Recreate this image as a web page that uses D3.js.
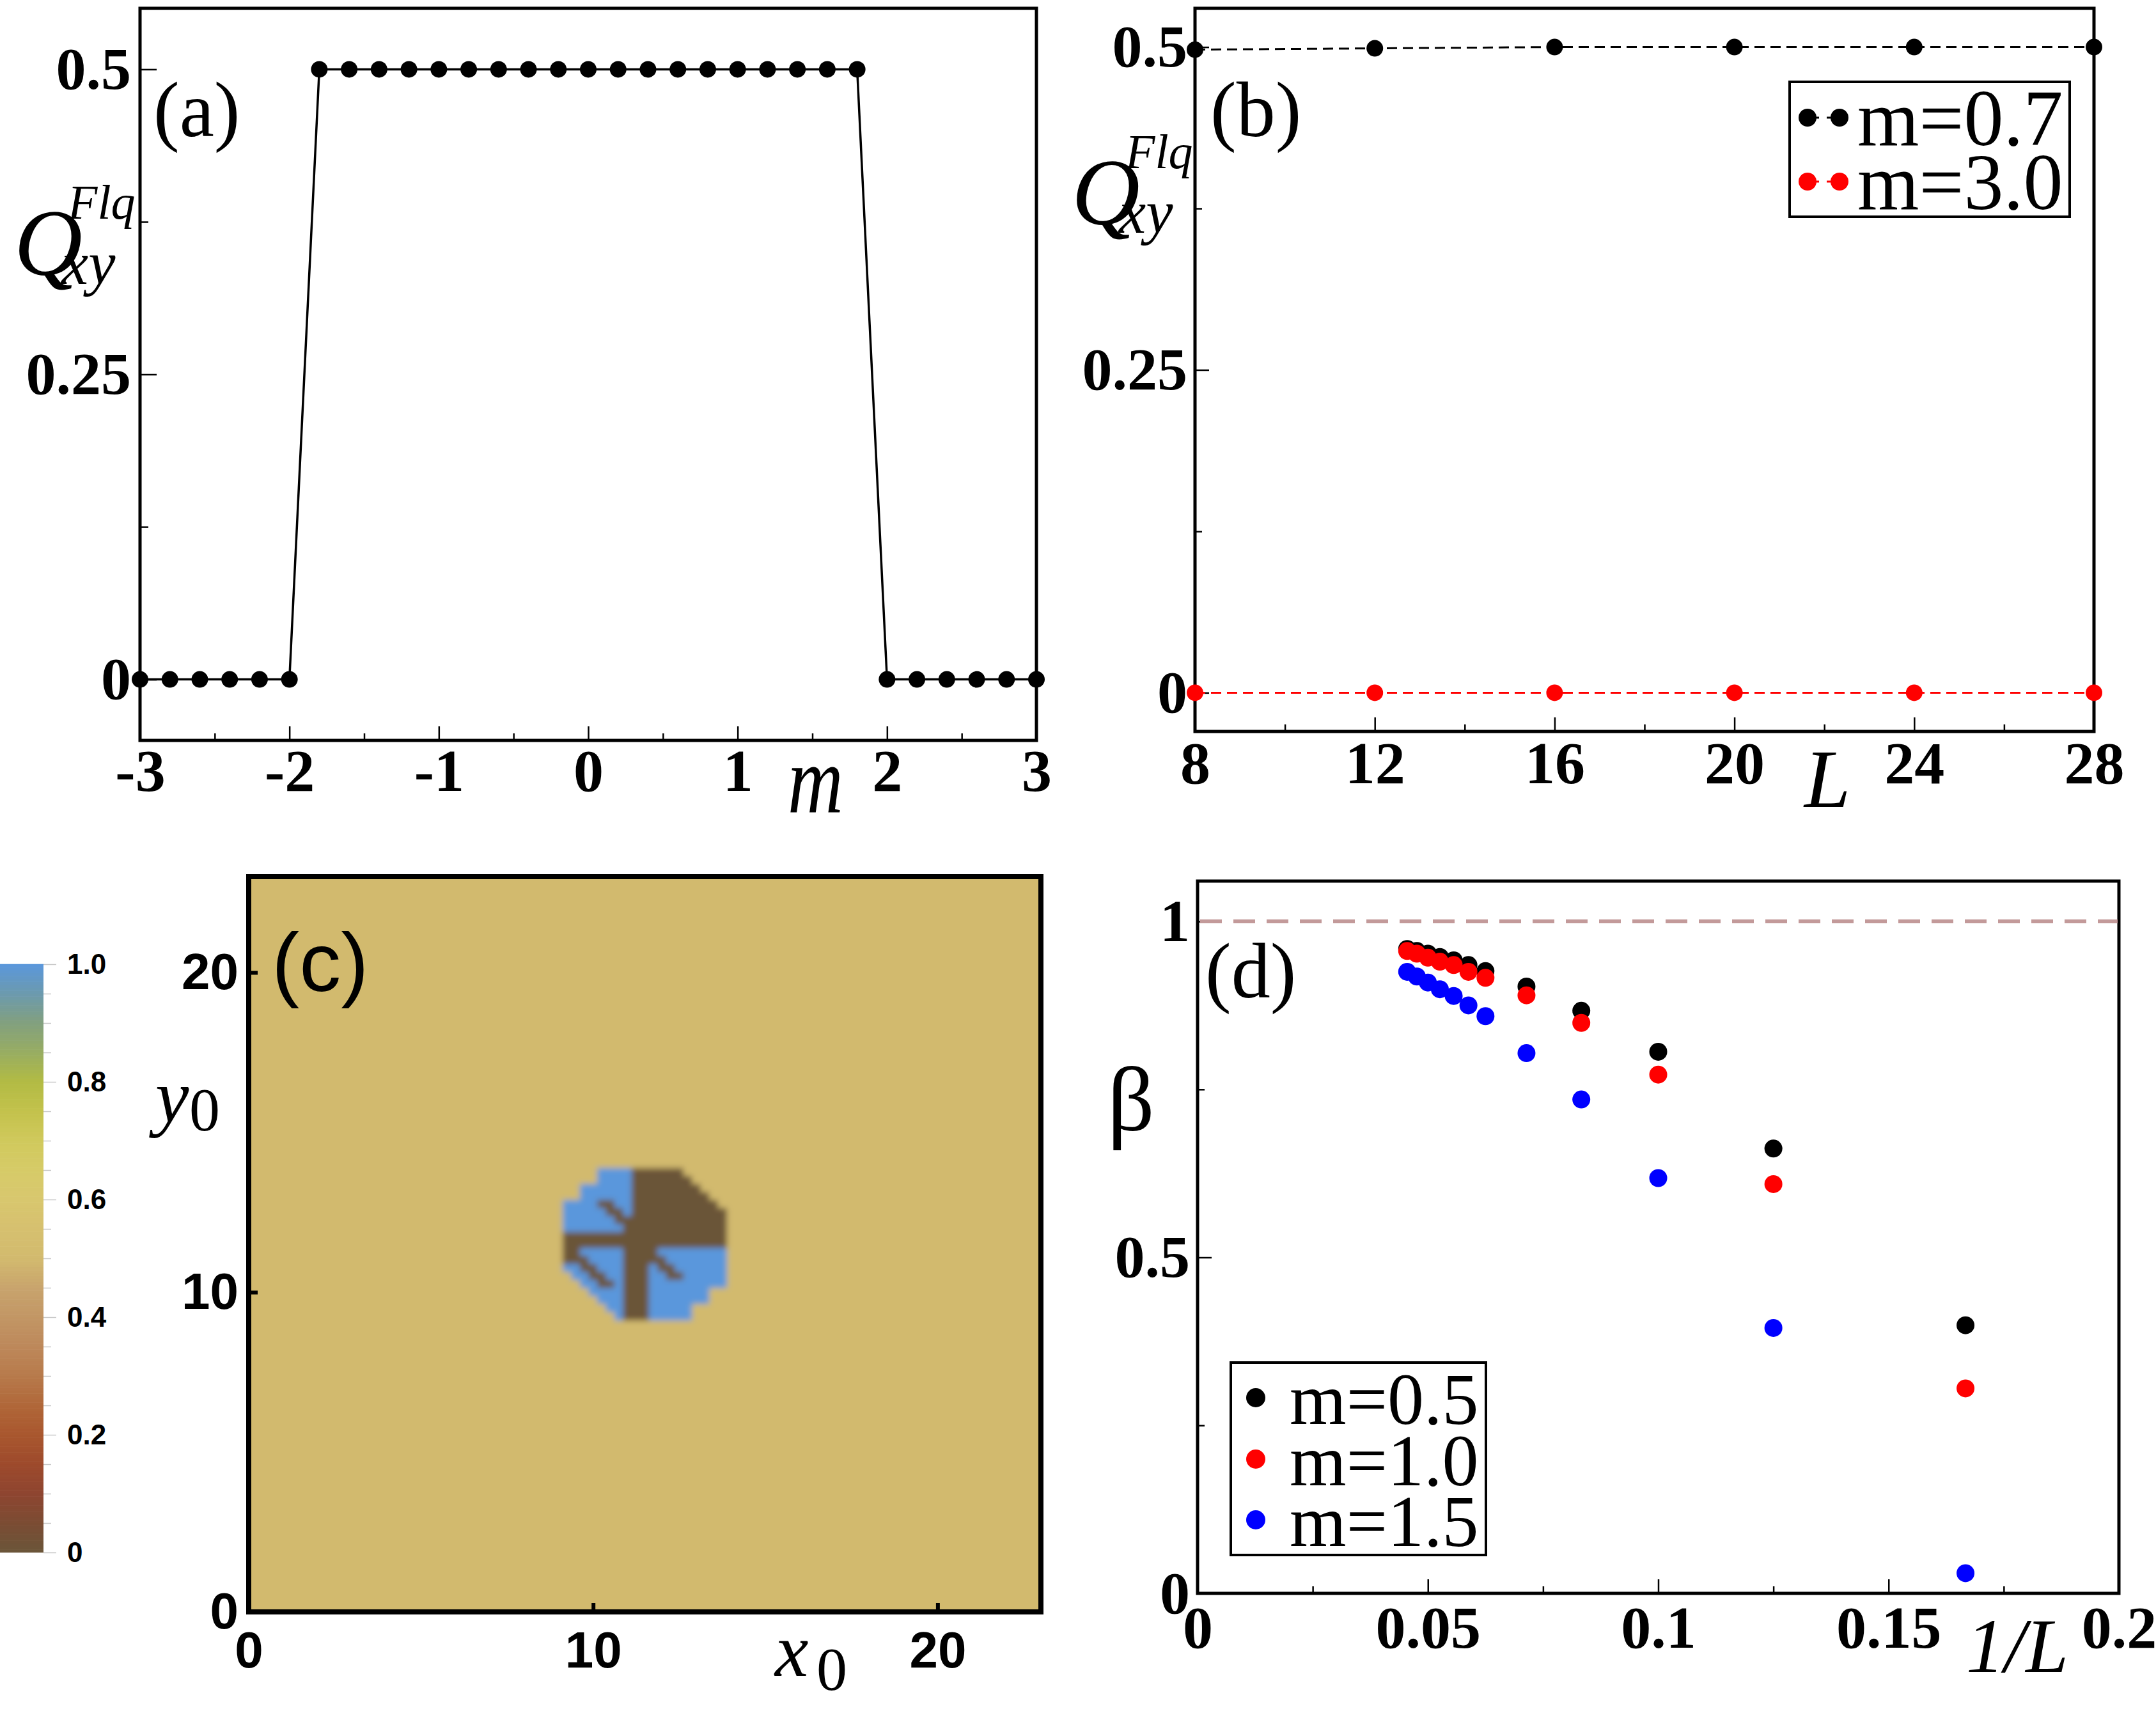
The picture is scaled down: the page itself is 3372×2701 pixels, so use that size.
<!DOCTYPE html>
<html><head><meta charset="utf-8">
<script src="https://cdn.jsdelivr.net/npm/d3@7"></script>
<style>
html,body{margin:0;padding:0;background:#fff;}
svg{display:block;}
</style></head><body>
<svg id="chart" width="3372" height="2701"></svg>
<script>
// ---------------- DATA ----------------
// Panel (a): Q_xy^Flq versus m
const mValues = [-3,-2.8,-2.6,-2.4,-2.2,-2,-1.8,-1.6,-1.4,-1.2,-1,-0.8,-0.6,-0.4,-0.2,0,0.2,0.4,0.6,0.8,1,1.2,1.4,1.6,1.8,2,2.2,2.4,2.6,2.8,3];
const qValues = [0,0,0,0,0,0,0.5,0.5,0.5,0.5,0.5,0.5,0.5,0.5,0.5,0.5,0.5,0.5,0.5,0.5,0.5,0.5,0.5,0.5,0.5,0,0,0,0,0,0];
const aXTicks = [-3,-2,-1,0,1,2,3];
const aXLabels = ["-3","-2","-1","0","1","2","3"];
const aXMinor = [-2.5,-1.5,-0.5,0.5,1.5,2.5];
const aYTicks = [0,0.25,0.5];
const aYLabels = ["0","0.25","0.5"];
const aYMinor = [0.125,0.375];

// Panel (b): Q_xy^Flq versus L
const bL = [8,12,16,20,24,28];
const bM07 = [0.498,0.499,0.5,0.5,0.5,0.5];
const bM30 = [0,0,0,0,0,0];
const bXTicks = [8,12,16,20,24,28];
const bXLabels = ["8","12","16","20","24","28"];
const bXMinor = [10,14,18,22,26];
const bYTicks = [0,0.25,0.5];
const bYLabels = ["0","0.25","0.5"];
const bYMinor = [0.125,0.375];
const bLegend = ["m=0.7","m=3.0"];

// Panel (c): density map over (x0, y0)
const heatX = [9.25,9.5,9.75,10,10.25,10.5,10.75,11,11.25,11.5,11.75,12,12.25,12.5,12.75,13,13.25,13.5,13.75];
const heatY = [13.75,13.5,13.25,13,12.75,12.5,12.25,12,11.75,11.5,11.25,11,10.75,10.5,10.25,10,9.75,9.5,9.25];
const heatRows = [
  "....BBBBDDDDDD.....",
  "....BBBBDDDDDDD....",
  "..BBBBBBDDDDDDDD...",
  "..BBBBBBDDDDDDDDD..",
  "BBBBDDBBDDDDDDDDDD.",
  "BBBBBDDBDDDDDDDDDDD",
  "BBBBBBDDDDDDDDDDDDD",
  "BBBBBBBDDDDDDDDDDDD",
  "DDDDDDDDDDDDDDDDDDD",
  "DDDDDDDDDDDDDDDDDDD",
  "DDBBBBBDDDDBBBBBBBB",
  "DDDBBBBDDDDDBBBBBBB",
  "BBDDBBBDDDBDDBBBBBB",
  ".BBDDBBDDDBBDDBBBBB",
  "..BBDDBDDDBBBBBBBBB",
  "...BBBBDDDBBBBBBB..",
  "....BBBDDDBBBBBBB..",
  ".....BBDDDBBBBB....",
  "......BDDDBBBBB...."
];
const heatCodes = {".":0.5, "B":1.0, "D":0.0};
const heatBackground = 0.5;
const cXTicks = [0,10,20];
const cYTicks = [0,10,20];
const cTickLabels = ["0","10","20"];
const cmapStops = [0,0.05,0.1,0.15,0.2,0.25,0.3,0.35,0.4,0.45,0.5,0.55,0.6,0.65,0.7,0.75,0.8,0.85,0.9,0.95,1];
const cmapColors = ["#6a5539","#7b4c33","#8e4530","#9d4a2c","#a9572e","#b06739","#b77a4b","#bd885a","#c29665","#c8a46d","#d2ba6e","#d6c06f","#d8c76e","#d6cb68","#d0c95c","#c3c24c","#b2bb44","#98ad62","#82a07e","#6c9aae","#5a97dc"];
const cbTicks = [0,0.2,0.4,0.6,0.8,1];
const cbLabels = ["0","0.2","0.4","0.6","0.8","1.0"];
const cbMinor = [0.05,0.1,0.15,0.25,0.3,0.35,0.45,0.5,0.55,0.65,0.7,0.75,0.85,0.9,0.95];

// Panel (d): beta versus 1/L
const dInvL = [0.0455,0.0476,0.05,0.0526,0.0556,0.0588,0.0625,0.0714,0.0833,0.1,0.125,0.1667];
const dM05 = [0.959,0.956,0.952,0.947,0.942,0.935,0.926,0.903,0.867,0.806,0.662,0.399];
const dM10 = [0.956,0.952,0.946,0.940,0.935,0.925,0.916,0.890,0.849,0.772,0.609,0.305];
const dM15 = [0.925,0.918,0.909,0.899,0.889,0.875,0.859,0.804,0.735,0.618,0.395,0.030];
const dRef = 1.0;
const dXTicks = [0,0.05,0.1,0.15,0.2];
const dXLabels = ["0","0.05","0.1","0.15","0.2"];
const dXMinor = [0.025,0.075,0.125,0.175];
const dYTicks = [0,0.5,1];
const dYLabels = ["0","0.5","1"];
const dYMinor = [0.25,0.75];
const dLegend = ["m=0.5","m=1.0","m=1.5"];

// ---------------- DRAWING ----------------
const SERIF = '"Liberation Serif","Times New Roman",serif';
const SANS = '"Liberation Sans",Arial,sans-serif';
const svg = d3.select('#chart');
const defs = svg.append('defs');

function axisLayer(parent, axisFn, scale, translate, vals, len, labels, o) {
  const a = axisFn(scale).tickValues(vals).tickSize(-len).tickPadding(o.pad || 10)
    .tickFormat(labels ? ((d, i) => labels[i]) : (() => ''));
  const g = parent.append('g').attr('transform', translate).call(a);
  g.select('.domain').remove();
  g.selectAll('.tick line').attr('stroke', o.tc || '#000').attr('stroke-width', o.tw || 2.5);
  g.selectAll('.tick text').attr('fill', '#000')
    .style('font-family', o.font || SERIF).style('font-size', (o.fs || 94) + 'px')
    .style('font-weight', o.fw || 'bold');
  return g;
}
function frame(parent, xs, ys, sw) {
  const [x0, x1] = xs.range(); const [y1, y0] = ys.range();
  parent.append('rect').attr('x', x0).attr('y', y0).attr('width', x1 - x0).attr('height', y1 - y0)
    .attr('fill', 'none').attr('stroke', '#000').attr('stroke-width', sw);
}
function txt(parent, x, y, s, o) {
  const t = parent.append('text').text(s)
    .style('font-family', o.font || SERIF).style('font-size', o.fs + 'px')
    .style('font-style', o.it ? 'italic' : 'normal').style('font-weight', o.fw || 'normal')
    .attr('fill', '#000').attr('text-anchor', o.anchor || 'start');
  if (o.sx) t.attr('transform', `translate(${x},${y}) scale(${o.sx},1)`);
  else t.attr('x', x).attr('y', y);
  return t;
}

// ===== Panel (a) =====
const ax = d3.scaleLinear().domain([-3, 3]).range([219, 1621]);
const ay = d3.scaleLinear().domain([-0.05, 0.55]).range([1158, 13]);
const ga = svg.append('g');
frame(ga, ax, ay, 5);
axisLayer(ga, d3.axisBottom, ax, `translate(0,${ay.range()[0]})`, aXTicks, 22, aXLabels, {pad: 12});
axisLayer(ga, d3.axisBottom, ax, `translate(0,${ay.range()[0]})`, aXMinor, 11, null, {});
axisLayer(ga, d3.axisLeft, ay, `translate(${ax.range()[0]},0)`, aYTicks, 26, aYLabels, {pad: 14});
axisLayer(ga, d3.axisLeft, ay, `translate(${ax.range()[0]},0)`, aYMinor, 13, null, {});
const aPts = mValues.map((m, i) => [m, qValues[i]]);
ga.append('path').attr('d', d3.line().x(d => ax(d[0])).y(d => ay(d[1]))(aPts))
  .attr('fill', 'none').attr('stroke', '#000').attr('stroke-width', 3.5);
ga.selectAll('circle.pa').data(aPts).join('circle').attr('class', 'pa')
  .attr('cx', d => ax(d[0])).attr('cy', d => ay(d[1])).attr('r', 13).attr('fill', '#000');
txt(ga, 240, 213, '(a)', {fs: 122});
txt(ga, 1232, 1270, 'm', {fs: 150, it: true, sx: 0.8});
txt(ga, 22, 430, 'Q', {fs: 148, it: true});
txt(ga, 106, 342, 'Flq', {fs: 76, it: true});
txt(ga, 96, 444, 'xy', {fs: 95, it: true});

// ===== Panel (b) =====
const bx = d3.scaleLinear().domain([8, 28]).range([1869, 3275]);
const by = d3.scaleLinear().domain([-0.03, 0.53]).range([1144, 13]);
const gb = svg.append('g');
frame(gb, bx, by, 5);
axisLayer(gb, d3.axisBottom, bx, `translate(0,${by.range()[0]})`, bXTicks, 22, bXLabels, {pad: 14});
axisLayer(gb, d3.axisBottom, bx, `translate(0,${by.range()[0]})`, bXMinor, 11, null, {});
axisLayer(gb, d3.axisLeft, by, `translate(${bx.range()[0]},0)`, bYTicks, 22, bYLabels, {pad: 12});
axisLayer(gb, d3.axisLeft, by, `translate(${bx.range()[0]},0)`, bYMinor, 11, null, {});
const bSeries = [{v: bM07, c: '#000'}, {v: bM30, c: '#ff0000'}];
bSeries.forEach(s => {
  const pts = bL.map((L, i) => [L, s.v[i]]);
  gb.append('path').attr('d', d3.line().x(d => bx(d[0])).y(d => by(d[1]))(pts))
    .attr('fill', 'none').attr('stroke', s.c).attr('stroke-width', 3).attr('stroke-dasharray', '16,9');
  gb.selectAll(null).data(pts).join('circle').attr('cx', d => bx(d[0])).attr('cy', d => by(d[1]))
    .attr('r', 13).attr('fill', s.c);
});
txt(gb, 1893, 213, '(b)', {fs: 122});
txt(gb, 2822, 1262, 'L', {fs: 130, it: true});
txt(gb, 1676, 351, 'Q', {fs: 148, it: true});
txt(gb, 1760, 263, 'Flq', {fs: 76, it: true});
txt(gb, 1750, 364, 'xy', {fs: 95, it: true});
// legend (b)
gb.append('rect').attr('x', 2799).attr('y', 128).attr('width', 438).attr('height', 211)
  .attr('fill', '#fff').attr('stroke', '#000').attr('stroke-width', 4);
const bLegY = [184, 284];
bSeries.forEach((s, i) => {
  const yy = bLegY[i];
  gb.append('line').attr('x1', 2827).attr('x2', 2877).attr('y1', yy).attr('y2', yy)
    .attr('stroke', s.c).attr('stroke-width', 3).attr('stroke-dasharray', '12,12').attr('stroke-dashoffset', -6);
  [2827, 2877].forEach(xx => gb.append('circle').attr('cx', xx).attr('cy', yy).attr('r', 14).attr('fill', s.c));
  txt(gb, 2905, yy + 43, bLegend[i], {fs: 124});
});

// ===== Panel (c) =====
const cx = d3.scaleLinear().domain([0, 23]).range([389, 1628]);
const cy = d3.scaleLinear().domain([0, 23]).range([2521, 1371]);
const cmap = d3.scaleLinear().domain(cmapStops).range(cmapColors).interpolate(d3.interpolateRgb);
defs.append('clipPath').attr('id', 'clipC').append('rect')
  .attr('x', cx(0)).attr('y', cy(23)).attr('width', cx(23) - cx(0)).attr('height', cy(0) - cy(23));
defs.append('filter').attr('id', 'soft').attr('filterUnits', 'userSpaceOnUse')
  .attr('x', 250).attr('y', 1250).attr('width', 1500).attr('height', 1400)
  .append('feGaussianBlur').attr('stdDeviation', 5);
const gc = svg.append('g');
const hg = gc.append('g').attr('clip-path', 'url(#clipC)').append('g').attr('filter', 'url(#soft)');
hg.append('rect').attr('x', cx(-1)).attr('y', cy(24)).attr('width', cx(24) - cx(-1)).attr('height', cy(-1) - cy(24))
  .attr('fill', cmap(heatBackground));
const cells = [];
heatRows.forEach((row, r) => row.split('').forEach((ch, c) => cells.push({x: heatX[c], y: heatY[r], v: heatCodes[ch]})));
const hw = 0.125;
hg.selectAll('rect.cell').data(cells).join('rect').attr('class', 'cell')
  .attr('x', d => cx(d.x - hw) - 0.4).attr('y', d => cy(d.y + hw) - 0.4)
  .attr('width', d => cx(d.x + hw) - cx(d.x - hw) + 0.8).attr('height', d => cy(d.y - hw) - cy(d.y + hw) + 0.8)
  .attr('fill', d => cmap(d.v));
frame(gc, cx, cy, 8);
axisLayer(gc, d3.axisBottom, cx, `translate(0,${cy(0)})`, cXTicks, 14, cTickLabels, {pad: 30, font: SANS, fs: 80, tw: 6});
axisLayer(gc, d3.axisLeft, cy, `translate(${cx(0)},0)`, cYTicks, 14, cTickLabels, {pad: 16, font: SANS, fs: 80, tw: 6});
txt(gc, 425, 1550, '(c)', {fs: 130, font: SANS});
txt(gc, 1212, 2621, 'x', {fs: 118, it: true});
txt(gc, 1277, 2643, '0', {fs: 96});
txt(gc, 243, 1755, 'y', {fs: 118, it: true});
txt(gc, 296, 1768, '0', {fs: 96});
// colorbar
const cbY = d3.scaleLinear().domain([0, 1]).range([2428, 1508]);
const cbN = 200;
const cbVals = d3.range(cbN).map(i => i / cbN);
gc.append('g').selectAll('rect').data(cbVals).join('rect')
  .attr('x', 0).attr('width', 68).attr('y', d => cbY(d + 1 / cbN) - 0.3)
  .attr('height', d => cbY(d) - cbY(d + 1 / cbN) + 0.6).attr('fill', d => cmap(d + 0.5 / cbN));
axisLayer(gc, d3.axisRight, cbY, 'translate(68,0)', cbTicks, -20, cbLabels, {pad: 17, font: SANS, fs: 44, tc: '#c8c8c8', tw: 1.5});
axisLayer(gc, d3.axisRight, cbY, 'translate(68,0)', cbMinor, -12, null, {tc: '#c8c8c8', tw: 1.5});

// ===== Panel (d) =====
const dx = d3.scaleLinear().domain([0, 0.2]).range([1873, 3314]);
const dy = d3.scaleLinear().domain([0, 1.06]).range([2492, 1378]);
const gd = svg.append('g');
frame(gd, dx, dy, 5);
axisLayer(gd, d3.axisBottom, dx, `translate(0,${dy.range()[0]})`, dXTicks, 22, dXLabels, {pad: 18});
axisLayer(gd, d3.axisBottom, dx, `translate(0,${dy.range()[0]})`, dXMinor, 11, null, {});
axisLayer(gd, d3.axisLeft, dy, `translate(${dx.range()[0]},0)`, dYTicks, 22, dYLabels, {pad: 12});
axisLayer(gd, d3.axisLeft, dy, `translate(${dx.range()[0]},0)`, dYMinor, 11, null, {});
gd.append('line').attr('x1', dx(0) + 4).attr('x2', dx(0.2) - 2).attr('y1', dy(dRef)).attr('y2', dy(dRef))
  .attr('stroke', '#c39a9a').attr('stroke-width', 6).attr('stroke-dasharray', '34,18');
const dSeries = [{v: dM05, c: '#000'}, {v: dM10, c: '#ff0000'}, {v: dM15, c: '#0000ff'}];
dSeries.forEach(s => {
  gd.selectAll(null).data(dInvL.map((x, i) => [x, s.v[i]])).join('circle')
    .attr('cx', d => dx(d[0])).attr('cy', d => dy(d[1])).attr('r', 14).attr('fill', s.c);
});
txt(gd, 1885, 1560, '(d)', {fs: 122});
txt(gd, 1732, 1768, 'β', {fs: 145});
txt(gd, 3075, 2615, '1/L', {fs: 120, it: true});
gd.append('rect').attr('x', 1925).attr('y', 2131).attr('width', 399).attr('height', 301)
  .attr('fill', '#fff').attr('stroke', '#000').attr('stroke-width', 4);
const dLegY = [2186, 2282, 2377];
dSeries.forEach((s, i) => {
  gd.append('circle').attr('cx', 1964).attr('cy', dLegY[i]).attr('r', 15).attr('fill', s.c);
  txt(gd, 2017, dLegY[i] + 41, dLegend[i], {fs: 114});
});
</script>
</body></html>
